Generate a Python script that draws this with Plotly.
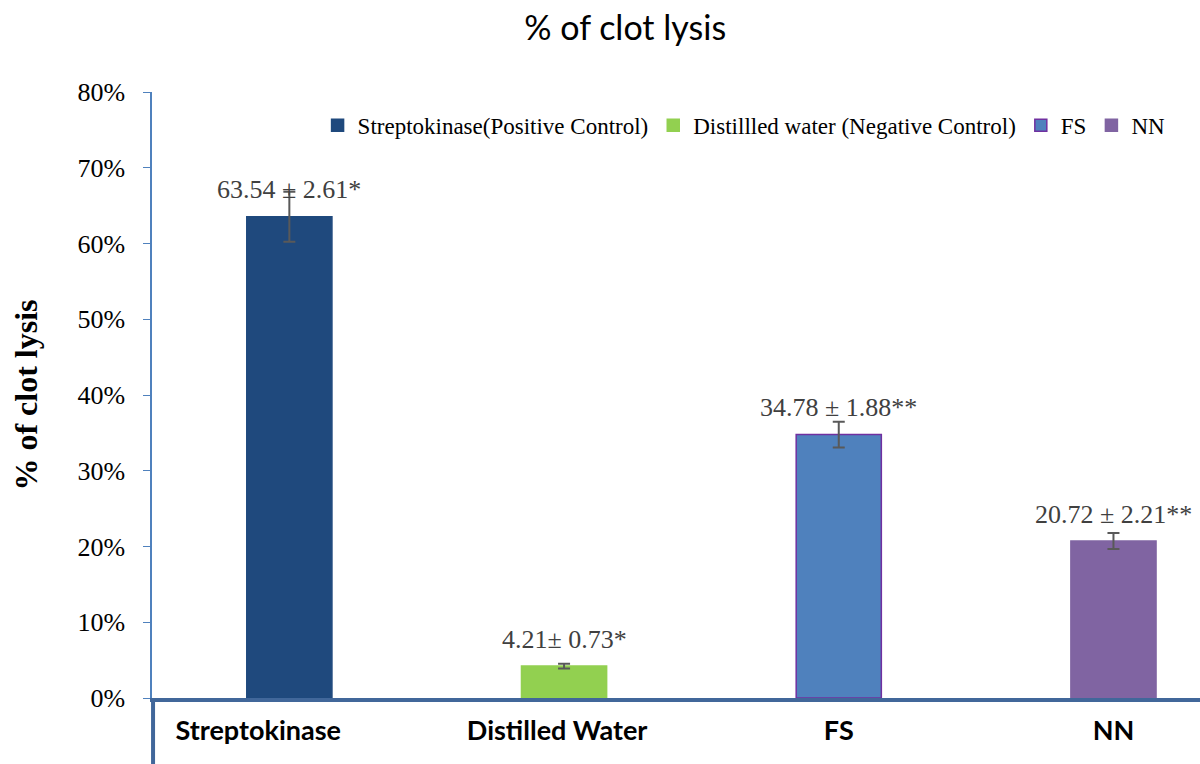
import plotly.graph_objects as go

categories = ["Streptokinase", "Distilled Water", "FS", "NN"]
tick_labels = ["<b>Streptokinase</b>" + "\u00a0" * 9, "<b>Distilled Water</b>" + "\u00a0" * 2, "<b>FS</b>", "<b>NN</b>"]
legend_names = ["Streptokinase(Positive Control)", "Distillled water (Negative Control)", "FS", "NN"]
values = [63.54, 4.21, 34.78, 20.72]
errors = [3.3, 0.3, 1.7, 1.05]
labels = ["63.54 ± 2.61*", "4.21± 0.73*", "34.78 ± 1.88**", "20.72 ± 2.21**"]
colors = ["#1F497D", "#92D050", "#4F81BD", "#8064A2"]
border_colors = ["#1F497D", "#92D050", "#7030A0", "#8064A2"]
tick_vals = [0, 10, 20, 30, 40, 50, 60, 70, 80]
tick_text = ["0%", "10%", "20%", "30%", "40%", "50%", "60%", "70%", "80%"]

fig = go.Figure()
for i, cat in enumerate(categories):
    fig.add_trace(go.Bar(
        x=[cat], y=[values[i]], name=legend_names[i], width=0.31,
        marker=dict(color=colors[i], line=dict(color=border_colors[i], width=1.5)),
        error_y=dict(type="data", array=[errors[i]], color="#595959", thickness=2, width=6),
    ))
    fig.add_annotation(
        x=cat, y=values[i], text=labels[i], showarrow=False,
        yanchor="middle", yshift=27,
        font=dict(family="Liberation Serif", size=26, color="#404040"),
    )

fig.add_shape(type="line", xref="paper", yref="paper", x0=0.001, x1=0.001, y0=0, y1=-0.2,
              line=dict(color="#41679A", width=4))

fig.update_layout(
    width=1200, height=764,
    margin=dict(l=152, r=0, t=92, b=66, autoexpand=False),
    paper_bgcolor="white", plot_bgcolor="white",
    barmode="overlay",
    title=dict(text="% of clot lysis", x=0.521, xanchor="center", y=0.963, yanchor="middle",
               font=dict(family="Lato", size=34, color="black")),
    legend=dict(orientation="h", x=0.158, xanchor="left", y=0.945, yanchor="middle",
                font=dict(family="Liberation Serif", size=23, color="black"),
                bgcolor="rgba(0,0,0,0)", itemwidth=30, tracegroupgap=0),
    xaxis=dict(categoryorder="array", categoryarray=categories, range=[-0.5, 3.315],
               tickvals=categories, ticktext=tick_labels,
               showline=True, linecolor="#41679A", linewidth=4, ticks="",
               tickfont=dict(family="Lato", size=27, color="black"), ticklabelstandoff=6,
               showgrid=False, zeroline=False),
    yaxis=dict(range=[0, 80], tickvals=tick_vals, ticktext=tick_text,
               showline=True, linecolor="#4F81BD", linewidth=1.5,
               ticks="outside", ticklen=7, tickcolor="#4F81BD", ticklabelstandoff=13,
               tickfont=dict(family="Liberation Serif", size=26, color="black"),
               showgrid=False, zeroline=False,
               title=dict(text="<b>% of clot lysis</b>", standoff=30,
                          font=dict(family="Liberation Serif", size=32, color="black"))),
)

fig.write_html("out.html", config={"displayModeBar": False},
               post_script="document.body.style.margin='0';")
